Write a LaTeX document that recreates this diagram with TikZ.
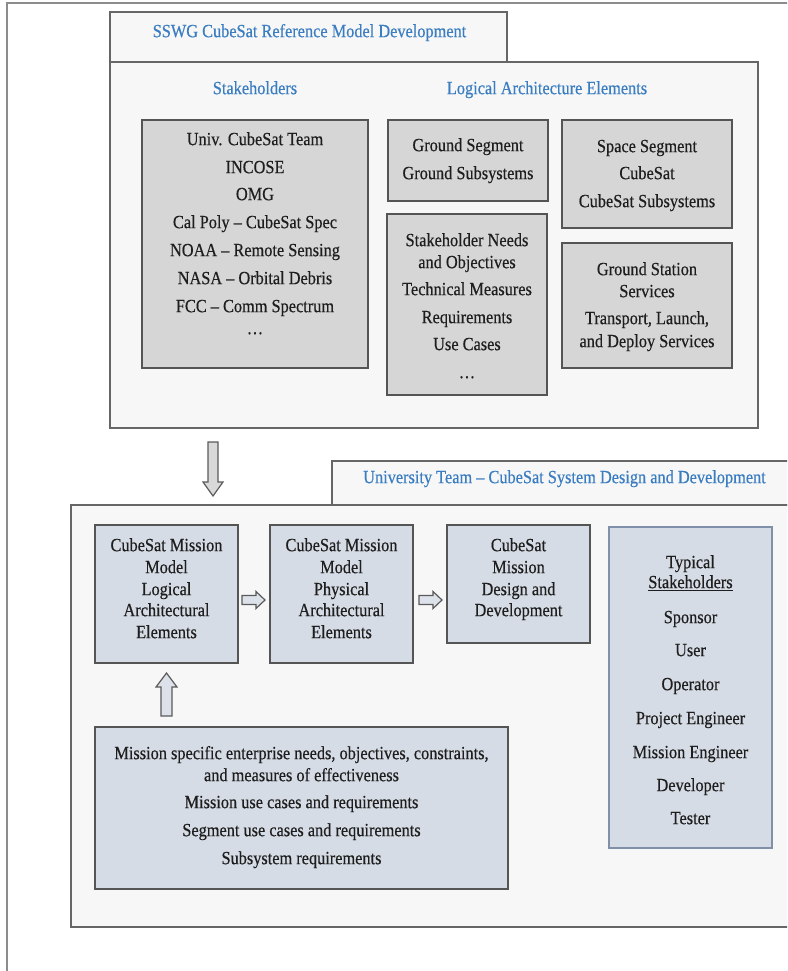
\documentclass[tikz,border=0pt]{standalone}
\usepackage{fontspec}
\setmainfont{Liberation Serif}[FakeStretch=0.877, FakeBold=0.45]
\usetikzlibrary{fit,calc}

\definecolor{framegray}{HTML}{8C8C8C}
\definecolor{panelline}{HTML}{666666}
\definecolor{panelfill}{HTML}{F7F7F7}
\definecolor{boxline}{HTML}{555555}
\definecolor{grayfill}{HTML}{D6D6D6}
\definecolor{bluefill}{HTML}{D6DCE5}
\definecolor{roleline}{HTML}{7F90A8}
\definecolor{inktext}{HTML}{1E1E1E}
\definecolor{titleblue}{HTML}{3A7DC1}
\definecolor{arrowline}{HTML}{5A5A5A}
\definecolor{arrowgray}{HTML}{D9D9D9}
\definecolor{arrowblue}{HTML}{DDE2EA}

\begin{document}
\begin{tikzpicture}[x=1pt,y=-1pt,
  every node/.style={inner sep=0pt, outer sep=0pt},
  frame/.style={draw=framegray, line width=1.1pt},
  panel/.style={draw=panelline, fill=panelfill, line width=1.5pt},
  graybox/.style={draw=boxline, fill=grayfill, line width=1.5pt},
  bluebox/.style={draw=boxline, fill=bluefill, line width=1.5pt},
  rolebox/.style={draw=roleline, fill=bluefill, line width=1.5pt},
  txt/.style={text=inktext, font=\fontsize{18.6}{21.7}\selectfont,
    text height=12.3pt, text depth=0pt, anchor=center},
  heading/.style={txt, text=titleblue},
  blkarrow/.style={draw=arrowline, line width=1.2pt, line join=miter},
  rblock/.pic={\draw[blkarrow, fill=arrowblue] (0,0) -- ++(14,0) -- ++(0,-4)
    -- ++(9,8.5) -- ++(-9,8.5) -- ++(0,-4) -- ++(-14,0) -- cycle;},
]
\useasboundingbox (0,0) rectangle (787,971);
\clip (0,0) rectangle (787,971);

% page frame
\draw[frame] (7,990) -- (7,3) -- (800,3);

% ---------- SSWG reference model panel ----------
\node[panel, fit={(110,12) (507,62)}] (sswgtab) {};
\node[panel, fit={(110,62) (758,428)}] (sswg) {};
\node[heading] (sswgtitle) at (309.5,31) {SSWG CubeSat Reference Model Development};
\node[heading] (stkhead) at (255,88) {Stakeholders};
\node[heading] (lahead) at (547,88) {Logical Architecture Elements};

\node[graybox, fit={(142,120) (368,368)}] (stk) {};
\foreach \y/\t [count=\i] in {139/{Univ. CubeSat Team}, 167/INCOSE, 194/OMG,
    222/{Cal Poly -- CubeSat Spec}, 250/{NOAA -- Remote Sensing},
    278/{NASA -- Orbital Debris}, 306/{FCC -- Comm Spectrum}, 328/{…}}
  \node[txt] (stk\i) at (255,\y) {\t};

\node[graybox, fit={(388,120) (548,201)}] (gseg) {};
\foreach \y/\t [count=\i] in {145/{Ground Segment}, 173/{Ground Subsystems}}
  \node[txt] (gseg\i) at (468,\y) {\t};

\node[graybox, fit={(387,214) (547,395)}] (needs) {};
\foreach \y/\t [count=\i] in {240/{Stakeholder Needs}, 262/{and Objectives},
    289/{Technical Measures}, 317/Requirements, 344/{Use Cases}, 372/{…}}
  \node[txt] (needs\i) at (467,\y) {\t};

\node[graybox, fit={(562,120) (732,228)}] (sseg) {};
\foreach \y/\t [count=\i] in {146/{Space Segment}, 173/CubeSat, 201/{CubeSat Subsystems}}
  \node[txt] (sseg\i) at (647,\y) {\t};

\node[graybox, fit={(562,243) (732,368)}] (gss) {};
\foreach \y/\t [count=\i] in {269/{Ground Station}, 291/Services,
    318/{Transport, Launch,}, 341/{and Deploy Services}}
  \node[txt] (gss\i) at (647,\y) {\t};

% ---------- University team panel ----------
\node[panel, fit={(332,461) (800,505)}] (univtab) {};
\node[panel, fit={(71,505) (800,927)}] (univ) {};
\node[heading] (univtitle) at (564.5,477) {University Team -- CubeSat System Design and Development};

\node[bluebox, fit={(95,525) (238,663)}] (logical) {};
\foreach \y/\t [count=\i] in {545/{CubeSat Mission}, 567/Model, 589/Logical,
    610/Architectural, 632/Elements}
  \node[txt] (logical\i) at (166.5,\y) {\t};

\node[bluebox, fit={(270,525) (413,663)}] (physical) {};
\foreach \y/\t [count=\i] in {545/{CubeSat Mission}, 567/Model, 589/Physical,
    610/Architectural, 632/Elements}
  \node[txt] (physical\i) at (341.5,\y) {\t};

\node[bluebox, fit={(447,525) (590,643)}] (design) {};
\foreach \y/\t [count=\i] in {545/CubeSat, 567/Mission, 589/{Design and}, 610/Development}
  \node[txt] (design\i) at (518.5,\y) {\t};

\node[rolebox, fit={(609,527) (772,848)}] (roles) {};
\foreach \y/\t [count=\i] in {562/Typical, 582/{\underline{Stakeholders}}, 617/Sponsor,
    650/User, 684/Operator, 718/{Project Engineer}, 752/{Mission Engineer},
    785/Developer, 818/Tester}
  \node[txt] (roles\i) at (690.5,\y) {\t};

\node[bluebox, fit={(95,727) (508,889)}] (mission) {};
\foreach \y/\t [count=\i] in {753/{Mission specific enterprise needs, objectives, constraints,},
    775/{and measures of effectiveness}, 802/{Mission use cases and requirements},
    830/{Segment use cases and requirements}, 858/{Subsystem requirements}}
  \node[txt] (mission\i) at (301.5,\y) {\t};

% ---------- block arrows ----------
% reference model feeds the university team panel
\coordinate (downtop) at ($(sswg.south west)+(103,14)$);
\draw[blkarrow, fill=arrowgray] ($(downtop)+(-5,0)$) -- ++(10,0) -- ++(0,40)
  -- ++(5,0) -- ++(-10,14) -- ++(-10,-14) -- ++(5,0) -- cycle;

% logical -> physical -> design
\pic at ($(logical.east)+(4,1.5)$) {rblock};
\pic at ($(physical.east)+(6,1.5)$) {rblock};

% mission needs -> logical elements
\coordinate (uptip) at ($(logical.south)+(0,10)$);
\draw[blkarrow, fill=arrowblue] (uptip) -- ++(10.5,14) -- ++(-5,0) -- ++(0,29)
  -- ++(-11,0) -- ++(0,-29) -- ++(-5,0) -- cycle;
\end{tikzpicture}
\end{document}
